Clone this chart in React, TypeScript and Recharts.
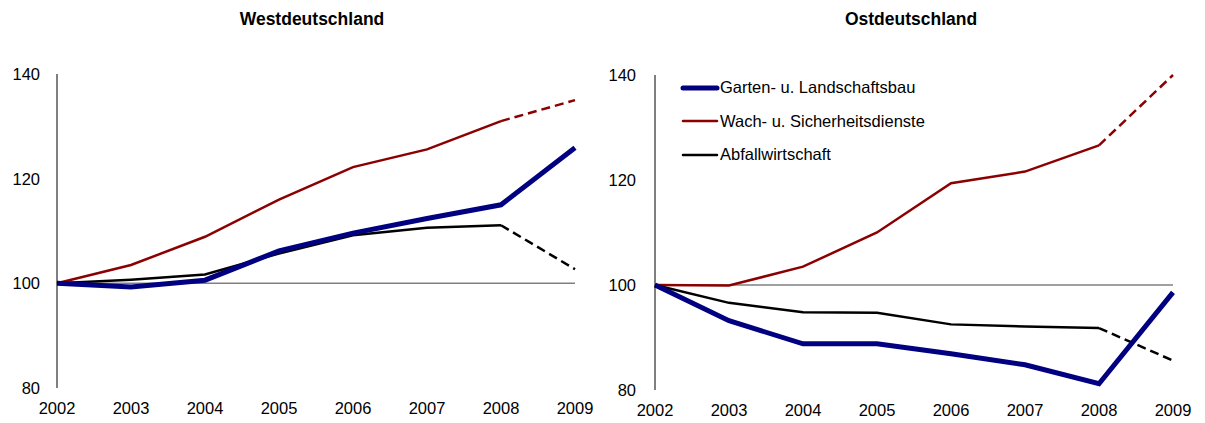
import { LineChart, Line, XAxis, YAxis, ReferenceLine } from 'recharts'

const years = [2002, 2003, 2004, 2005, 2006, 2007, 2008, 2009]

// Westdeutschland (2002 = 100)
const westGarten = [100, 99.3, 100.6, 106.2, 109.6, 112.4, 115.0, 125.9]
const westWach = [100, 103.5, 108.9, 116.0, 122.2, 125.6, 131.0, 135.0]
const westAbfall = [100, 100.7, 101.7, 105.7, 109.2, 110.6, 111.1, 102.7]

// Ostdeutschland (2002 = 100)
const ostGarten = [100, 93.2, 88.8, 88.8, 86.9, 84.8, 81.2, 98.6]
const ostWach = [100, 99.9, 103.5, 110.0, 119.4, 121.6, 126.6, 140.0]
const ostAbfall = [100, 96.6, 94.8, 94.7, 92.5, 92.1, 91.8, 85.6]

const yTicks = [80, 100, 120, 140]

const seriesNames = ['Garten- u. Landschaftsbau', 'Wach- u. Sicherheitsdienste', 'Abfallwirtschaft']

const BLUE = '#000080'
const RED = '#8b0000'
const BLACK = '#000000'
const FONT = '"Liberation Sans", Arial, sans-serif'

// last segment (2008 -> 2009) is drawn dashed for red and black
const lastIdx = years.length - 2

function buildRows(garten: number[], wach: number[], abfall: number[]) {
  return years.map((year, i) => ({
    year,
    garten: garten[i],
    wach: i <= lastIdx ? wach[i] : null,
    wachDash: i >= lastIdx ? wach[i] : null,
    abfall: i <= lastIdx ? abfall[i] : null,
    abfallDash: i >= lastIdx ? abfall[i] : null,
  }))
}

const westRows = buildRows(westGarten, westWach, westAbfall)
const ostRows = buildRows(ostGarten, ostWach, ostAbfall)

function LegendBox() {
  const items = [
    { name: seriesNames[0], color: BLUE, w: 5 },
    { name: seriesNames[1], color: RED, w: 2.5 },
    { name: seriesNames[2], color: BLACK, w: 2.5 },
  ]
  return (
    <div style={{ fontFamily: FONT, fontSize: 16.5, color: '#000' }}>
      {items.map((it) => (
        <div key={it.name} style={{ display: 'flex', alignItems: 'center', height: 33.5 }}>
          <svg width={40} height={10} style={{ marginRight: 0 }}>
            <line x1={3} y1={5} x2={37} y2={5} stroke={it.color} strokeWidth={it.w} strokeLinecap="round" />
          </svg>
          <span>{it.name}</span>
        </div>
      ))}
    </div>
  )
}

interface PanelProps {
  rows: ReturnType<typeof buildRows>
  width: number
  yAxisWidth: number
  right: number
  top: number
  bottom: number
  tickGap: number
}

function Panel({ rows, width, yAxisWidth, right, top, bottom, tickGap }: PanelProps) {
  const tick = { fontSize: 16.5, fill: '#000', fontFamily: FONT }
  return (
    <LineChart width={width} height={423} data={rows} margin={{ top, right, bottom: 0, left: 0 }}>
      <XAxis
        dataKey="year"
        type="number"
        domain={[2002, 2009]}
        ticks={years}
        axisLine={false}
        tickLine={false}
        tickSize={0}
        tickMargin={14}
        height={423 - bottom}
        tick={tick}
        interval={0}
      />
      <YAxis
        type="number"
        domain={[80, 140]}
        ticks={yTicks}
        width={yAxisWidth}
        axisLine={{ stroke: '#000', strokeWidth: 1 }}
        tickLine={false}
        tickSize={0}
        tickMargin={tickGap}
        tick={tick}
      />
      <ReferenceLine y={100} stroke="#808080" strokeWidth={1.5} />
      <Line dataKey="wach" stroke={RED} strokeWidth={2.5} dot={false} isAnimationActive={false} />
      <Line dataKey="wachDash" stroke={RED} strokeWidth={2.5} strokeDasharray="9 5" dot={false} isAnimationActive={false} />
      <Line dataKey="abfall" stroke={BLACK} strokeWidth={2.5} dot={false} isAnimationActive={false} />
      <Line dataKey="abfallDash" stroke={BLACK} strokeWidth={2.5} strokeDasharray="9 5" dot={false} isAnimationActive={false} />
      <Line dataKey="garten" stroke={BLUE} strokeWidth={5} dot={false} isAnimationActive={false} />
    </LineChart>
  )
}

const titleStyle = {
  position: 'absolute' as const,
  top: 9,
  fontFamily: FONT,
  fontWeight: 700,
  fontSize: 17.5,
  textAlign: 'center' as const,
}

export default function App() {
  return (
    <div style={{ position: 'absolute', left: 0, top: 0, width: 1205, height: 423, background: '#fff' }}>
      <div style={{ position: 'absolute', left: 0, top: 0 }}>
        <Panel rows={westRows} width={600} yAxisWidth={57} right={25} top={74} bottom={388} tickGap={17} />
      </div>
      <div style={{ position: 'absolute', left: 600, top: 0 }}>
        <Panel rows={ostRows} width={605} yAxisWidth={55} right={32} top={75} bottom={390} tickGap={19} />
      </div>
      <div style={{ ...titleStyle, left: 212, width: 200 }}>Westdeutschland</div>
      <div style={{ ...titleStyle, left: 811, width: 200 }}>Ostdeutschland</div>
      <div style={{ position: 'absolute', left: 680, top: 71 }}>
        <LegendBox />
      </div>
    </div>
  )
}
